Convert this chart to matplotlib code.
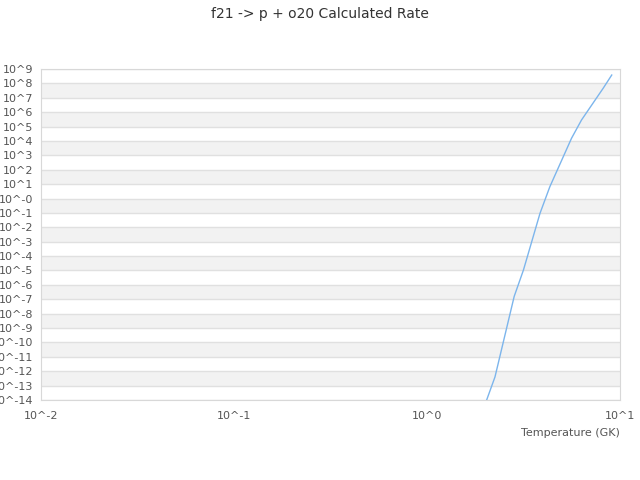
import numpy as np
import matplotlib
matplotlib.use('Agg')
import matplotlib.pyplot as plt

# temperature (GK) and log10 of the rate
temp = [2.0, 2.25, 2.83, 3.16, 3.85, 4.33, 5.61, 6.32, 8.18, 9.06]
lograte = [-14.3, -12.4, -6.8, -4.97, -1.03, 0.82, 4.19, 5.46, 7.66, 8.58]

ydec = list(range(-14, 10))
ylabels = ['10^' + ('-0' if d == 0 else str(d)) for d in ydec]
xdec = [-2, -1, 0, 1]
xlabels = ['10^' + str(d) for d in xdec]

txt = '#555555'
gridc = '#e0e0e0'

fig = plt.figure(figsize=(6.4, 4.8), dpi=100)
ax = fig.add_axes([41/640, 80/480, 579/640, 331/480])

# alternating bands
for d in ydec[:-1]:
    if d % 2 != 0:
        ax.axhspan(10.0**d, 10.0**(d+1), color='#f2f2f2', lw=0, zorder=0)
for d in ydec:
    ax.axhline(10.0**d, color=gridc, lw=1, zorder=1)

ax.plot(temp, 10.0**np.array(lograte), color='#7cb5ec', lw=1, zorder=3)

ax.set_xscale('log')
ax.set_yscale('log')
ax.set_xlim(1e-2, 1e1)
ax.set_ylim(1e-14, 1e9)
ax.set_xticks([10.0**d for d in xdec])
ax.set_xticklabels(xlabels)
ax.set_yticks([10.0**d for d in ydec])
ax.set_yticklabels(ylabels)
ax.minorticks_off()
ax.tick_params(length=0, labelsize=8, colors=txt, pad=8)
ax.tick_params(axis='y', pad=5.5)
for s in ax.spines.values():
    s.set_color('#d8d8d8')

ax.set_xlabel('Temperature (GK)', fontsize=8, color=txt)
ax.xaxis.set_label_coords(1.0, -0.085)
ax.xaxis.label.set_horizontalalignment('right')

fig.suptitle('f21 -> p + o20 Calculated Rate', fontsize=10, color='#333333', y=0.985)

fig.savefig('out.png', dpi=100)
